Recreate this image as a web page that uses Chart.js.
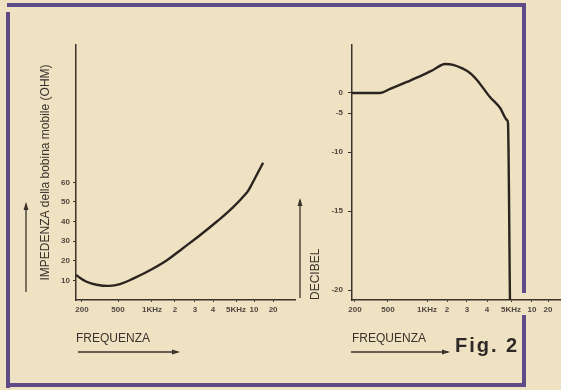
<!DOCTYPE html>
<html>
<head>
<meta charset="utf-8">
<script src="https://cdn.jsdelivr.net/npm/chart.js@4.4.1/dist/chart.umd.min.js"></script>
<style>
  body { margin: 0; background: #efe2c3; }
  #page { position: relative; width: 561px; height: 390px; overflow: hidden; background: #efe2c3; }
  .bar { position: absolute; background: #5f4b88; }
  canvas { position: absolute; top: 0; }
  #fig { position: absolute; left: 455px; top: 334px; line-height: 20px; font: bold 20px "Liberation Sans", Arial, sans-serif; letter-spacing: 2px; color: #2e2926; }
</style>
</head>
<body>
<div id="page">
  <div class="bar" style="left:7px;top:3px;width:519px;height:4px"></div>
  <div class="bar" style="left:6px;top:12px;width:4px;height:376px"></div>
  <div class="bar" style="left:522px;top:3px;width:4px;height:290px"></div>
  <div class="bar" style="left:522px;top:315px;width:4px;height:72px"></div>
  <div class="bar" style="left:6px;top:383px;width:520px;height:4px"></div>
  <canvas id="imp" width="300" height="390" style="left:0"></canvas>
  <canvas id="db" width="271" height="390" style="left:290px"></canvas>
  <div id="fig">Fig. 2</div>
</div>
<script>
// frequency axis (same on both graphs)
const freqTicks = [200, 500, 1000, 2000, 3000, 4000, 5000, 10000, 20000];
const freqLabels = ['200', '500', '1KHz', '2', '3', '4', '5KHz', '10', '20'];

// left: impedance of the voice coil (ohm)
const impTicks = [10, 20, 30, 40, 50, 60];
const impFreq = [180, 225, 290, 400, 520, 680, 960, 1570, 2350, 3250, 4150, 4850, 7600, 8600, 13900];
const impedance = [12.7, 9.3, 7.8, 7.2, 8.1, 10.9, 15.2, 20.3, 26.4, 33, 40, 47.2, 54.8, 57.4, 70];

// right: response in decibel
const dbTicks = [-20, -15, -10, -5, 0];
const dbFreq = [190, 400, 520, 700, 930, 1230, 1870, 2260, 3130, 3460, 4110, 4520, 4820, 4860, 4950];
const decibel = [0, 0, 1, 2.75, 4.5, 5.75, 7.25, 7, 5, 3.25, -1, -3.75, -5.9, -6.3, -20.6];

const curveInk = '#2b2420';
const axisInk = '#3a322c';
const labelInk = '#4f463f';

// the drawing's axes are hand spaced, so map values piecewise onto the axis
class WarpScale extends Chart.LinearScale {
  buildTicks() {
    return this.options.tickValues.map(value => ({value}));
  }
  toDecimal(v) {
    const {stops, at, log} = this.options.warp;
    const f = log ? Math.log10 : (n => n);
    let i = 0;
    while (i < stops.length - 2 && v > stops[i + 1]) i++;
    const a = f(stops[i]), b = f(stops[i + 1]);
    return at[i] + (f(v) - a) / (b - a) * (at[i + 1] - at[i]);
  }
  getPixelForValue(v) {
    return this.getPixelForDecimal(this.toDecimal(v));
  }
  getValueForPixel(px) {
    const d = this.getDecimalForPixel(px);
    const {stops, at, log} = this.options.warp;
    let i = 0;
    while (i < at.length - 2 && d > at[i + 1]) i++;
    const t = (d - at[i]) / (at[i + 1] - at[i]);
    return log ? stops[i] * Math.pow(stops[i + 1] / stops[i], t) : stops[i] + t * (stops[i + 1] - stops[i]);
  }
}
WarpScale.id = 'warp';
WarpScale.defaults = {};
Chart.register(WarpScale);

const arrowPlugin = {
  id: 'arrows',
  afterDraw(chart, args, opts) {
    const ctx = chart.ctx;
    ctx.save();
    ctx.strokeStyle = axisInk;
    ctx.fillStyle = axisInk;
    ctx.lineWidth = 1.3;
    opts.lines.forEach(([x1, y1, x2, y2]) => {
      ctx.beginPath();
      ctx.moveTo(x1, y1);
      ctx.lineTo(x2, y2);
      ctx.stroke();
      const a = Math.atan2(y2 - y1, x2 - x1);
      const c = Math.cos(a), s = Math.sin(a);
      ctx.beginPath();
      ctx.moveTo(x2 + 2 * c, y2 + 2 * s);
      ctx.lineTo(x2 - 6 * c + 2.5 * s, y2 - 6 * s - 2.5 * c);
      ctx.lineTo(x2 - 6 * c - 2.5 * s, y2 - 6 * s + 2.5 * c);
      ctx.closePath();
      ctx.fill();
    });
    ctx.restore();
  }
};

const tickFont = {family: 'Liberation Sans', size: 8, weight: 'bold'};
const titleFont = {family: 'Liberation Sans', size: 12};

const axisStyle = (tickLength) => ({
  border: {display: true, color: axisInk, width: 1.5},
  grid: {display: true, drawOnChartArea: false, drawTicks: true, tickLength: tickLength, color: axisInk, lineWidth: 1},
});

const freqAxis = (stops, at, titlePad) => ({
  type: 'warp',
  min: stops[0],
  max: stops[stops.length - 1],
  warp: {stops: stops, at: at, log: true},
  tickValues: freqTicks,
  ...axisStyle(2),
  ticks: {font: tickFont, color: labelInk, padding: 3, autoSkip: false, maxRotation: 0,
    callback: (v, i) => freqLabels[i]},
  title: {display: true, text: 'FREQUENZA', align: 'start', color: axisInk, font: titleFont,
    padding: {top: 0, bottom: titlePad}},
  afterFit: s => { s.height = 62; }
});

const common = {
  responsive: false,
  animation: false,
  events: [],
  layout: {padding: {left: 0, top: 45, right: 0, bottom: 28}},
};

new Chart(document.getElementById('imp'), {
  type: 'line',
  data: {
    datasets: [{
      data: impFreq.map((f, i) => ({x: f, y: impedance[i]})),
      borderColor: curveInk,
      borderWidth: 2.4,
      pointRadius: 0,
      tension: 0.4,
      fill: false,
      clip: false
    }]
  },
  options: {
    ...common,
    layout: {padding: {left: 0, top: 45, right: 5, bottom: 28}},
    plugins: {
      legend: {display: false},
      tooltip: {enabled: false},
      arrows: {lines: [[26, 292, 26, 204], [78, 352, 178, 352]]}
    },
    scales: {
      x: freqAxis([180, 200, 500, 1000, 2000, 3000, 4000, 5000, 10000, 20000, 32000],
                  [0, 0.027, 0.192, 0.347, 0.452, 0.543, 0.626, 0.731, 0.813, 0.900, 1], 16),
      y: {
        type: 'linear',
        min: 0,
        max: 130,
        afterBuildTicks: s => { s.ticks = impTicks.map(value => ({value})); },
        ...axisStyle(3),
        ticks: {font: tickFont, color: labelInk, padding: 3, autoSkip: false},
        title: {display: true, text: 'IMPEDENZA della bobina mobile (OHM)', color: axisInk, font: titleFont,
          padding: {top: 38, bottom: 0}},
        afterFit: s => { s.width = 76; }
      }
    }
  },
  plugins: [arrowPlugin]
});

new Chart(document.getElementById('db'), {
  type: 'line',
  data: {
    datasets: [{
      data: dbFreq.map((f, i) => ({x: f, y: decibel[i]})),
      borderColor: curveInk,
      borderWidth: 2.4,
      pointRadius: 0,
      cubicInterpolationMode: 'monotone',
      fill: false,
      clip: false
    }]
  },
  options: {
    ...common,
    plugins: {
      legend: {display: false},
      tooltip: {enabled: false},
      arrows: {lines: [[10, 298, 10, 200], [61, 352, 158, 352]]}
    },
    scales: {
      x: freqAxis([190, 200, 500, 1000, 2000, 3000, 4000, 5000, 10000, 20000, 30000],
                  [0, 0.014, 0.172, 0.359, 0.455, 0.550, 0.646, 0.761, 0.861, 0.938, 1], 16),
      y: {
        type: 'warp',
        min: -20.6,
        max: 12,
        warp: {stops: [-20.6, -20, -15, -10, -5, 0, 12], at: [0, 0.039, 0.349, 0.580, 0.733, 0.812, 1], log: false},
        tickValues: dbTicks,
        ...axisStyle(4),
        ticks: {font: tickFont, color: labelInk, padding: 5, autoSkip: false, callback: v => String(v)},
        title: {display: true, text: 'DECIBEL', align: 'start', color: axisInk, font: titleFont,
          padding: {top: 18, bottom: 0}},
        afterFit: s => { s.width = 62; }
      }
    }
  },
  plugins: [arrowPlugin]
});
</script>
</body>
</html>
